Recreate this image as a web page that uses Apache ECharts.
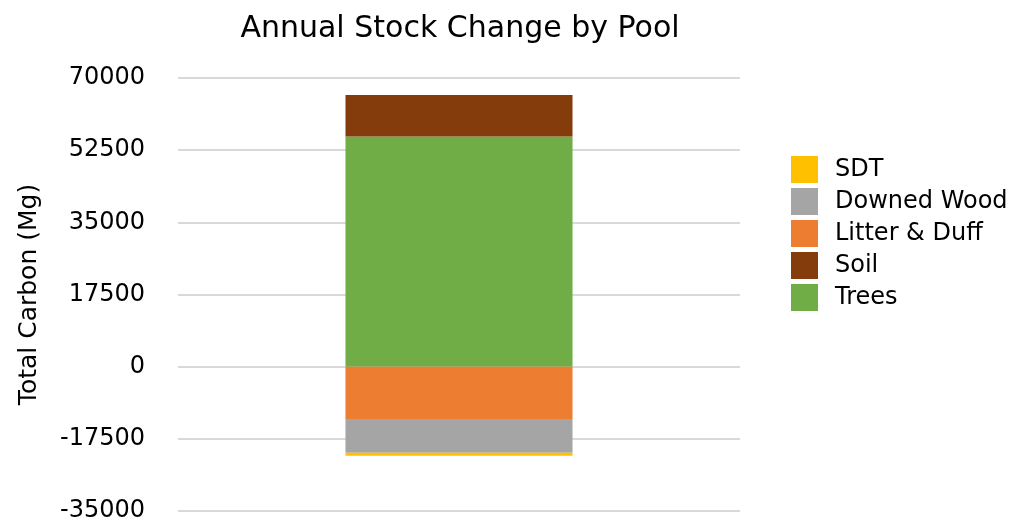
<!DOCTYPE html>
<html>
<head>
<meta charset="utf-8">
<script src="https://cdn.jsdelivr.net/npm/echarts@6/dist/echarts.min.js"></script>
<style>
  html, body { margin: 0; padding: 0; background: #fff; }
  #chart { width: 1021px; height: 523px; }
</style>
</head>
<body>
<div id="chart"></div>
<script>
  const categories = ['Annual']
  const treesData = [55800]
  const soilData = [10100]
  const litterData = [-12700]
  const downedData = [-8200]
  const sdtData = [-700]
  const legendOrder = ['SDT', 'Downed Wood', 'Litter & Duff', 'Soil', 'Trees']

  const font = 'DejaVu Sans'
  const chart = echarts.init(document.getElementById('chart'))

  const bar = (name, data, color) => ({
    name,
    type: 'bar',
    stack: 'pool',
    data,
    barWidth: '40.4%',
    itemStyle: { color },
    emphasis: { disabled: true }
  })

  chart.setOption({
    animation: false,
    title: {
      text: 'Annual Stock Change by Pool',
      left: 460,
      textAlign: 'center',
      top: 14,
      padding: 0,
      textStyle: { fontFamily: font, fontSize: 30, fontWeight: 'normal', color: '#000' }
    },
    grid: {
      left: 178,
      right: 281,
      top: 78,
      bottom: 10
    },
    legend: {
      orient: 'vertical',
      left: 791,
      top: 156,
      padding: 0,
      itemWidth: 27,
      itemHeight: 27,
      itemGap: 5,
      icon: 'rect',
      data: legendOrder,
      textStyle: { fontFamily: font, fontSize: 24, color: '#000', padding: [0, 0, 0, 12] }
    },
    xAxis: {
      type: 'category',
      data: categories,
      axisLine: { show: false },
      axisTick: { show: false },
      axisLabel: { show: false }
    },
    yAxis: {
      type: 'value',
      min: -35000,
      max: 70000,
      interval: 17500,
      name: 'Total Carbon (Mg)',
      nameLocation: 'middle',
      nameGap: 136,
      nameTextStyle: { fontFamily: font, fontSize: 25, color: '#000' },
      axisLine: { show: false },
      axisTick: { show: false },
      axisLabel: {
        fontFamily: font,
        fontSize: 24,
        color: '#000',
        margin: 33,
        formatter: (v) => String(v)
      },
      splitLine: { lineStyle: { color: '#d9d9d9', width: 2 } }
    },
    series: [
      bar('Trees', treesData, '#70AD47'),
      bar('Soil', soilData, '#843C0C'),
      bar('Litter & Duff', litterData, '#ED7D31'),
      bar('Downed Wood', downedData, '#A5A5A5'),
      bar('SDT', sdtData, '#FFC000')
    ]
  })
</script>
</body>
</html>
